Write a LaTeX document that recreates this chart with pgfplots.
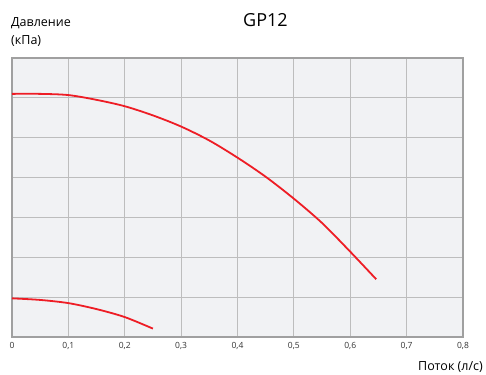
\documentclass[border=0pt]{standalone}
\usepackage{pgfplots}
\pgfplotsset{compat=1.18}
\usepackage{fontspec}
\setmainfont{Open Sans}
\definecolor{bgc}{HTML}{F1F2F4}
\definecolor{gridc}{HTML}{BDBDBD}
\definecolor{axc}{HTML}{A0A0A0}
\definecolor{redc}{HTML}{EE1D25}
\begin{document}
\begin{tikzpicture}[x=1pt,y=1pt]
\useasboundingbox (0,0) rectangle (486,374);
\begin{axis}[
  at={(12pt,37pt)}, anchor=south west,
  scale only axis, width=451pt, height=279pt,
  xmin=0, xmax=0.8, ymin=0, ymax=7,
  xtick={0,0.1,...,0.8},
  xticklabels={0,{0,1},{0,2},{0,3},{0,4},{0,5},{0,6},{0,7},{0,8}},
  ytick={0,1,...,7}, yticklabels={},
  major tick length=0pt,
  grid=major,
  major grid style={gridc, line width=1.2pt},
  axis line style={axc, line width=1.2pt},
  axis background/.style={fill=bgc},
  tick label style={font=\fontsize{8.5}{9}\selectfont, text=black!80},
  xticklabel style={anchor=base, yshift=-11pt},
]
\addplot[redc, line width=1.8pt, smooth, tension=0.5] coordinates {
(0,6.1) (0.05,6.1) (0.1,6.07) (0.15,5.95) (0.2,5.79) (0.25,5.56) (0.3,5.28)
(0.35,4.93) (0.4,4.5) (0.45,4.02) (0.5,3.47) (0.55,2.86) (0.6,2.14) (0.646,1.45)};
\addplot[redc, line width=1.8pt, smooth, tension=0.5] coordinates {
(0,0.97) (0.05,0.93) (0.1,0.85) (0.15,0.7) (0.2,0.5) (0.25,0.21)};
\end{axis}
\node[anchor=base west, font=\fontsize{12.5}{14}\selectfont, inner sep=0pt] at (11,347) {Давление};
\node[anchor=base west, font=\fontsize{12.5}{14}\selectfont, inner sep=0pt] at (11,329) {(кПа)};
\node[anchor=base, font=\fontsize{18}{20}\selectfont, inner sep=0pt] at (265.5,347) {GP12};
\node[anchor=base east, font=\fontsize{12.5}{14}\selectfont, inner sep=0pt] at (483,4) {Поток (л/с)};
\end{tikzpicture}
\end{document}
